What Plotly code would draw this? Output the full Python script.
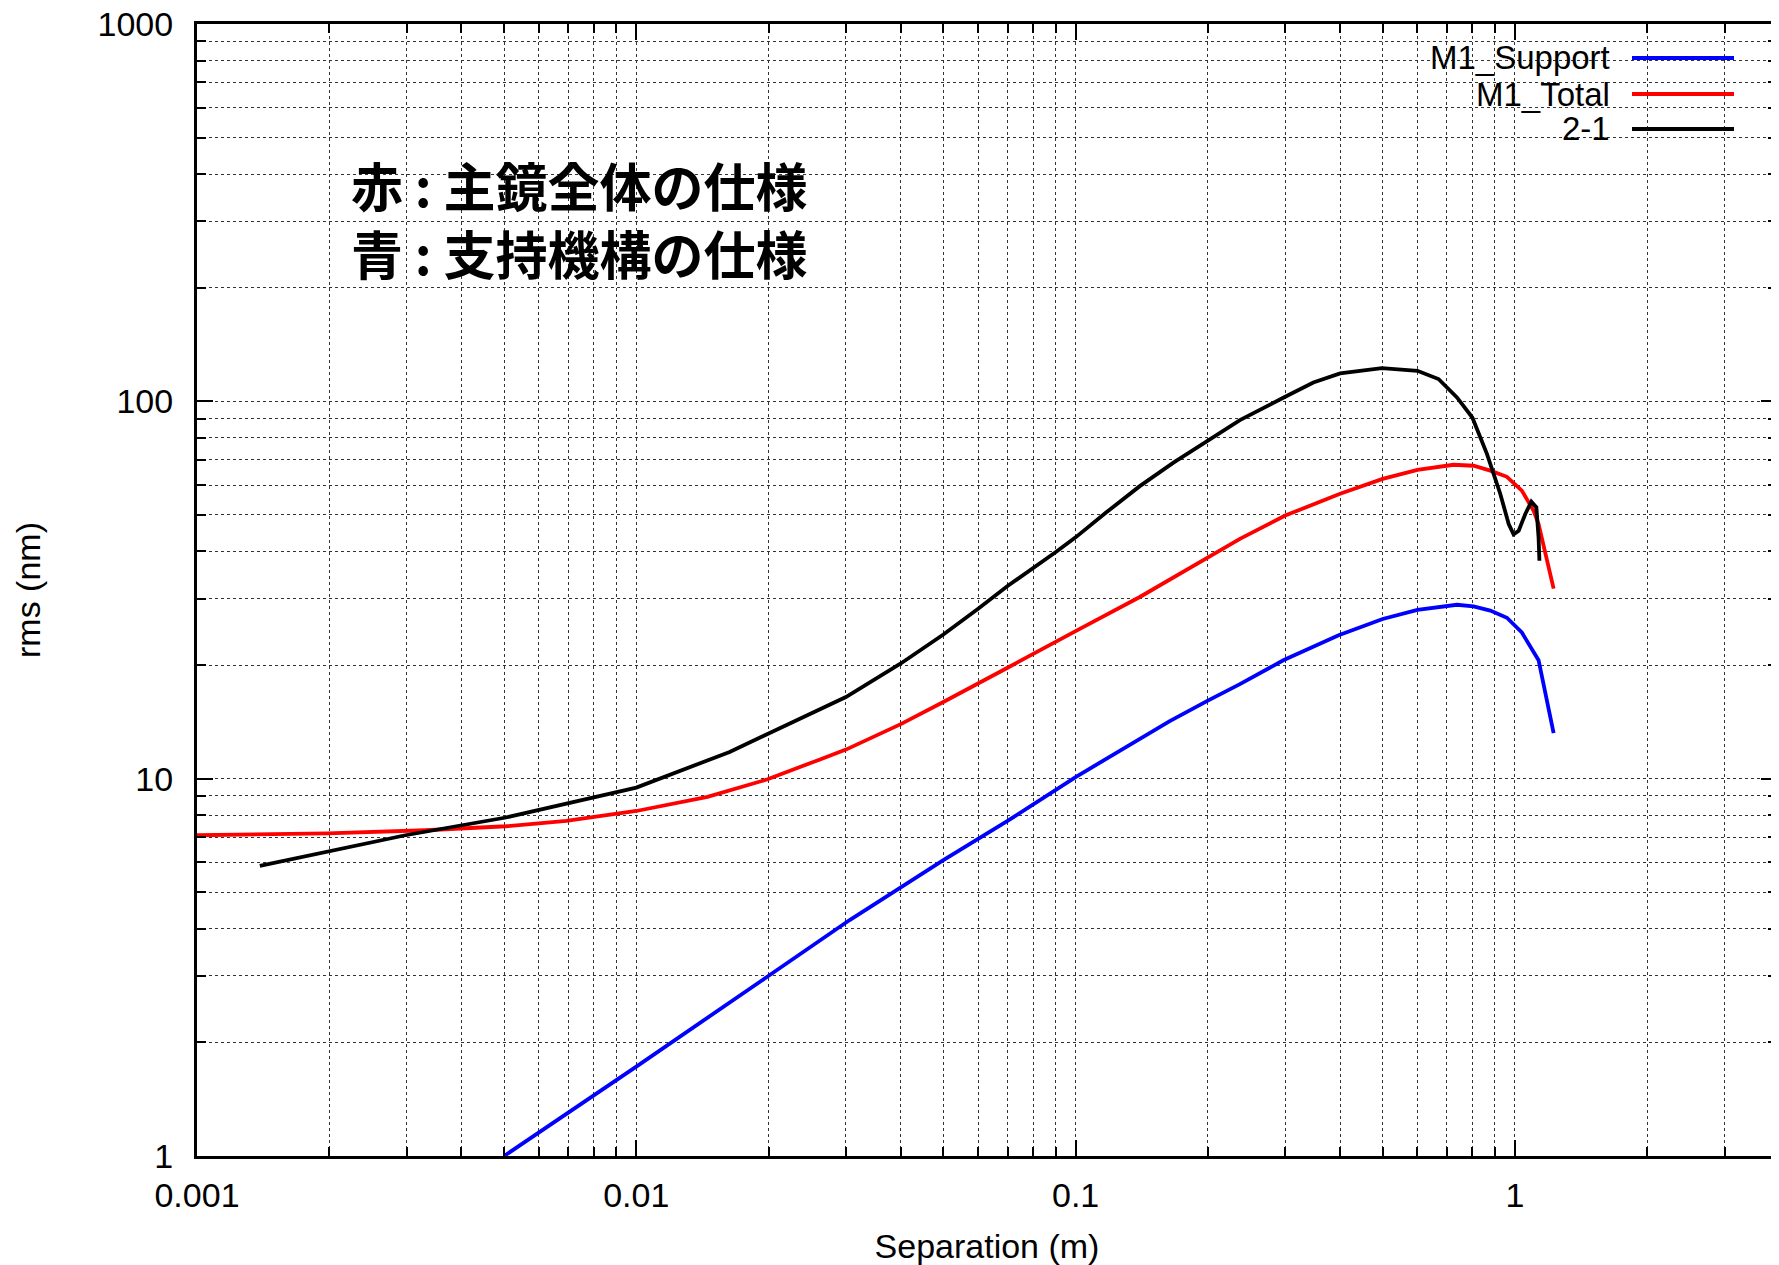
import math
import plotly.graph_objects as go

# ---------------- data ----------------
support_x = [0.005, 0.01, 0.0199, 0.0306, 0.05, 0.07, 0.1, 0.1638, 0.2, 0.2366,
             0.297, 0.397, 0.5, 0.6, 0.738, 0.805, 0.879, 0.959, 1.037, 1.132, 1.225]
support_y = [1.0, 1.726, 2.99, 4.22, 6.08, 7.73, 10.1, 14.2, 16.1, 17.8,
             20.6, 24.0, 26.5, 28.0, 28.9, 28.6, 27.9, 26.7, 24.4, 20.6, 13.2]

total_x = [0.001, 0.00198, 0.00331, 0.00505, 0.00693, 0.01, 0.01452, 0.0199, 0.0261,
           0.03, 0.04, 0.05, 0.07, 0.0828, 0.1, 0.14, 0.2, 0.2366, 0.3, 0.4, 0.5, 0.6,
           0.725, 0.805, 0.879, 0.959, 1.037, 1.103, 1.132, 1.225]
total_y = [7.08, 7.16, 7.30, 7.48, 7.73, 8.21, 8.95, 9.96, 11.23,
           11.94, 13.95, 15.96, 19.68, 21.9, 24.6, 30.3, 38.6, 43.2, 49.8, 56.9, 62.3, 65.8,
           67.9, 67.5, 65.5, 63.1, 58.0, 51.3, 47.3, 31.9]

sf21_x = [0.00139, 0.00198, 0.00298, 0.00505, 0.00807, 0.01, 0.01631, 0.0261, 0.03,
          0.04, 0.05, 0.06, 0.07, 0.09, 0.1, 0.1175, 0.14, 0.1667, 0.2, 0.2366, 0.3,
          0.3477, 0.4, 0.498, 0.6, 0.670, 0.738, 0.8, 0.864, 0.926, 0.968, 0.993,
          1.02, 1.056, 1.090, 1.119, 1.132, 1.137]
sf21_y = [5.87, 6.40, 7.08, 7.89, 8.95, 9.47, 11.77, 15.24, 16.46,
          20.2, 24.1, 28.2, 32.4, 39.8, 43.6, 50.8, 59.6, 68.7, 78.7, 89.2, 102.8,
          112.2, 118.6, 122.5, 120.5, 114.6, 102.4, 90.6, 72.5, 56.9, 47.3, 44.4,
          45.4, 50.3, 54.2, 52.4, 43.6, 37.8]

series_names = ["M1_Support", "M1_Total", "2-1"]
series_colors = ["#0000ff", "#ff0000", "#000000"]

x_tick_vals = [0.001, 0.01, 0.1, 1]
x_tick_text = ["0.001", "0.01", "0.1", "1"]
y_tick_vals = [1, 10, 100, 1000]
y_tick_text = ["1", "10", "100", "1000"]
x_minor = [k * d for d in [0.001, 0.01, 0.1, 1] for k in range(2, 10) if k * d < 3.95]
y_minor = [k * d for d in [1, 10, 100] for k in range(2, 10)]

note_lines = ["赤 : 主鏡全体の仕様", "青 : 支持機構の仕様"]

# ---------------- figure ----------------
# the page body adds an 8px margin, so the figure is made 8px smaller
BODY = 8
W, H = 1779 - BODY, 1265 - BODY
PL, PT, PW, PH = 197, 24, 1580, 1132          # plot area in page pixels
ML, MT = PL - BODY, PT - BODY
MR = W - ML - PW
MB = H - MT - PH


def px(fx):
    return (fx - PL) / PW


def py(fy):
    return (PT + PH - fy) / PH


FONT = "Liberation Sans, Arial, sans-serif"
CJK = "Noto Sans CJK JP, Noto Sans CJK SC, sans-serif"

fig = go.Figure()
for name, xs, ys, col in zip(series_names,
                             [support_x, total_x, sf21_x],
                             [support_y, total_y, sf21_y],
                             series_colors):
    fig.add_trace(go.Scatter(x=xs, y=ys, mode="lines", name=name,
                             line=dict(color=col, width=3.8), showlegend=False))

grid_style = dict(showgrid=True, gridcolor="#333333", gridwidth=1, griddash="dot")

axis_common = dict(
    type="log", ticks="inside", ticklen=16, tickwidth=2, tickcolor="black",
    showline=True, linewidth=3, linecolor="black", mirror="allticks",
    zeroline=False, tickfont=dict(family=FONT, size=34, color="black"),
    ticklabeloverflow="allow", automargin=False,
    **grid_style,
)

fig.update_xaxes(
    range=[-3, math.log10(3.95)], tickmode="array",
    tickvals=x_tick_vals, ticktext=x_tick_text,
    minor=dict(tickmode="array", tickvals=x_minor, ticks="inside", ticklen=9,
               tickwidth=2, tickcolor="black", **grid_style),
    ticklabelstandoff=7,
    title=dict(text="Separation (m)", font=dict(family=FONT, size=34, color="black"),
               standoff=23),
    **axis_common,
)
fig.update_yaxes(
    range=[0, 3], tickmode="array",
    tickvals=y_tick_vals, ticktext=y_tick_text,
    minor=dict(tickmode="array", tickvals=y_minor, ticks="inside", ticklen=9,
               tickwidth=2, tickcolor="black", **grid_style),
    ticklabelstandoff=14,
    title=dict(text="rms (nm)", font=dict(family=FONT, size=34, color="black"),
               standoff=47),
    **axis_common,
)

shapes = []
annotations = []

# white box behind the note text
shapes.append(dict(type="rect", xref="paper", yref="paper", layer="between",
                   x0=px(335), x1=px(874), y0=py(295), y1=py(140),
                   fillcolor="white", line=dict(width=0)))
annotations.append(dict(text="<b>" + "<br>".join(note_lines) + "</b>",
                        xref="paper", yref="paper", align="left",
                        x=px(349), y=py(218), xanchor="left", yanchor="middle",
                        showarrow=False,
                        font=dict(family=CJK, size=52, color="black")))

# legend (key placed at the right of the labels, as in the reference)
shapes.append(dict(type="rect", xref="paper", yref="paper", layer="between",
                   x0=px(1397), x1=px(1771), y0=py(147), y1=py(35),
                   fillcolor="white", line=dict(width=0)))
for name, col, fy in zip(series_names, series_colors, [58, 94, 129]):
    annotations.append(dict(text=name, xref="paper", yref="paper",
                            x=px(1612), y=py(fy), xanchor="right", yanchor="middle",
                            showarrow=False,
                            font=dict(family=FONT, size=33, color="black")))
    shapes.append(dict(type="line", xref="paper", yref="paper", layer="above",
                       x0=px(1632), x1=px(1734), y0=py(fy), y1=py(fy),
                       line=dict(color=col, width=3.8)))

fig.update_layout(
    width=W, height=H,
    margin=dict(l=ML, r=MR, t=MT, b=MB, pad=0, autoexpand=False),
    paper_bgcolor="white", plot_bgcolor="white",
    shapes=shapes, annotations=annotations,
    showlegend=False,
)

fig.write_html("out.html")
